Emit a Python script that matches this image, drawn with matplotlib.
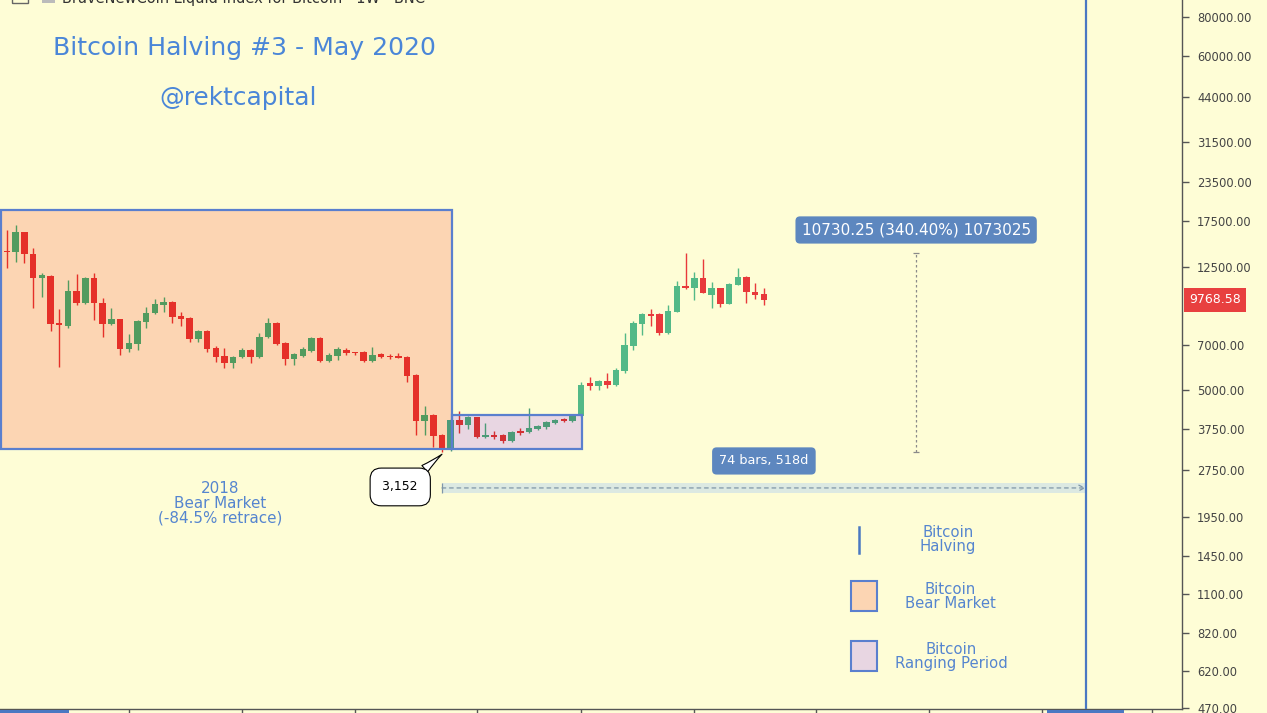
import numpy as np
import matplotlib.pyplot as plt
import matplotlib.colors as mcolors
from matplotlib.patches import Rectangle
import matplotlib.transforms as mtransforms

# BNC weekly candles, bar 0 = week of 25 Dec 2017 (bar -1 = the week before)
bars = np.arange(-1, 88)
opens = np.array([
    19050, 14000, 13940, 16180, 13730, 11490, 11660, 8222, 8040, 10430,
    9542, 11490, 9542, 8161, 8471, 6779, 7036, 8285, 8857, 9399,
    9613, 8661, 8534, 7302, 7748, 6830, 6434, 6107, 6386, 6727,
    6386, 7411, 8222, 7088, 6292, 6434, 6677, 7356, 6199, 6434,
    6727, 6628, 6628, 6199, 6531, 6386, 6434, 6386, 5587, 3968,
    4150, 3576, 3223, 3998, 3852, 4088, 3523, 3576, 3576, 3420,
    3684, 3657, 3739, 3795, 3910, 4027, 3968, 4119, 5265, 5148,
    5344, 5187, 5756, 6932, 8161, 8792, 8792, 7634, 8923, 10830,
    10670, 11490, 10130, 10670, 9472, 10910, 11580, 10350, 10200])
highs = np.array([
    19200, 16420, 17040, 16200, 14360, 11930, 11750, 9124, 11320, 11840,
    11550, 11930, 9903, 9193, 8500, 7578, 8400, 9263, 9830, 9977,
    9700, 8923, 8600, 7800, 7800, 6932, 6830, 6420, 6830, 6780,
    7634, 8534, 8300, 7141, 6560, 6880, 7400, 7400, 6579, 6880,
    6830, 6650, 6660, 6880, 6560, 6531, 6579, 6420, 5620, 4436,
    4180, 3600, 4020, 4275, 4119, 4100, 3910, 3684, 3600, 3684,
    3767, 4371, 3852, 3960, 4027, 4060, 4150, 5304, 5505, 5380,
    5671, 5885, 7634, 8347, 8857, 9124, 8850, 9399, 11240, 13882.25,
    12010, 13230, 11160, 10700, 11050, 12380, 11650, 11080, 10670])
lows = np.array([
    13800, 12380, 12940, 12850, 9193, 9977, 7748, 5929, 7900, 9399,
    9450, 8409, 7411, 8100, 6482, 6628, 6727, 7921, 8800, 8923,
    8222, 8040, 7141, 7141, 6628, 6153, 5885, 5885, 6339, 6107,
    6340, 7380, 7000, 6017, 6017, 6386, 6640, 6150, 6150, 6245,
    6482, 6482, 6170, 6170, 6360, 6292, 6320, 5304, 3576, 3576,
    3271, 3152, 3180, 3630, 3739, 3500, 3500, 3470, 3370, 3400,
    3576, 3630, 3720, 3739, 3890, 3950, 3939, 4090, 4996, 4996,
    5073, 5150, 5671, 6727, 7522, 8040, 7522, 7600, 8900, 10600,
    9757, 10250, 9193, 9263, 9440, 10880, 9542, 9830, 9399])
closes = np.array([
    13940, 13900, 16180, 13730, 11490, 11750, 8161, 8101, 10430, 9542,
    11490, 9542, 8161, 8471, 6779, 7088, 8347, 8857, 9472, 9613,
    8598, 8471, 7302, 7748, 6779, 6386, 6107, 6386, 6727, 6386,
    7411, 8222, 7036, 6292, 6531, 6779, 7356, 6199, 6482, 6779,
    6579, 6579, 6199, 6482, 6386, 6370, 6339, 5546, 3968, 4150,
    3549, 3247, 3998, 3852, 4088, 3523, 3576, 3523, 3420, 3657,
    3630, 3767, 3823, 3939, 3998, 3968, 4119, 5187, 5148, 5344,
    5187, 5799, 6982, 8222, 8792, 8661, 7634, 8990, 10830, 10670,
    11490, 10280, 10670, 9472, 10990, 11580, 10350, 10130, 9768.58])

price_ticks = [470, 620, 820, 1100, 1450, 1950, 2750, 3750, 5000, 7000,
               12500, 17500, 23500, 31500, 44000, 60000, 80000]
quarter_bars = [14, 27, 40, 54, 66, 79, 93, 106, 119, 131.6]

# drawings: bear market box, ranging box, halving, measurements
bear_box = (-0.72, 51.15, 3223, 19050)
range_box = (51.15, 66.1, 3223, 4150)
halving_bar = 124
low_bar, low_price = 50, 3152
move = 10730.25
measure_bar = 104.5

BG = '#fefdd6'
GREEN = '#53b987'
RED = '#e8393b'
BLUE = '#5a7fce'
BEAR_FILL = '#fcd5b3'
RANGE_FILL = '#e8d6e2'
LABEL_BOX = '#5d87bf'
TEXT_BLUE = '#4a86d8'
NOTE_BLUE = '#5585cf'

W, H = 1267, 713
AX_W, AX_H = 1182, 709

fig = plt.figure(figsize=(W / 100, H / 100), dpi=100, facecolor=BG)
ax = fig.add_axes([0, (H - AX_H) / H, AX_W / W, AX_H / H], facecolor=BG)
ax.set_yscale('log')
ax.set_xlim(-0.805, 135.06)
ax.set_ylim(466.2, 90780)


def axpos(x, y):
    return x / AX_W, 1 - y / AX_H


def tint(color, fill):
    # multiply blend of a candle colour with the box fill under it
    return tuple(np.array(mcolors.to_rgb(color)) * np.array(mcolors.to_rgb(fill)))


# box fills under the candles, outlines on top
for (x0, x1, y0, y1), fc in [(bear_box, BEAR_FILL), (range_box, RANGE_FILL)]:
    ax.add_patch(Rectangle((x0, y0), x1 - x0, y1 - y0, fc=fc, ec='none', zorder=1))
    ax.add_patch(Rectangle((x0, y0), x1 - x0, y1 - y0, fc='none', ec=BLUE, lw=1.6, zorder=3))

# candles
colors = []
for b, o, c in zip(bars, opens, closes):
    col = GREEN if c >= o else RED
    if b <= 50:
        col = tint(col, BEAR_FILL)
    elif b <= 65:
        col = tint(col, RANGE_FILL)
    colors.append(col)
body_lo = np.minimum(opens, closes)
body_hi = np.maximum(np.maximum(opens, closes), body_lo * 1.008)
ax.vlines(bars, lows, highs, colors=colors, lw=1, zorder=2)
ax.bar(bars, body_hi - body_lo, bottom=body_lo, width=0.75, color=colors,
       linewidth=0, zorder=2.1)

ax.axvline(halving_bar, color='#4a78c2', lw=1.6, zorder=3)

# date range low -> halving
ax.add_patch(Rectangle((low_bar, 2323), halving_bar - low_bar, 2502 - 2323,
                       fc='#dce9e2', ec='none', zorder=1.5))
ax.annotate('', xy=(halving_bar, 2412), xytext=(low_bar, 2412),
            arrowprops=dict(arrowstyle='->', color='#7f96a8', lw=0.9,
                            linestyle=(0, (3, 3)), shrinkA=0, shrinkB=0), zorder=2)
ax.vlines(low_bar, 2330, 2495, color='#7f96a8', lw=0.9, zorder=2)
ax.text((low_bar + halving_bar) / 2, 2948, '74 bars, 518d', ha='center', va='center',
        fontsize=9.3, color='white', zorder=5,
        bbox=dict(boxstyle='round,pad=0.55,rounding_size=0.35', fc=LABEL_BOX, ec='none'))

# price range from the low
top = low_price + move
ax.vlines(measure_bar, low_price, top, color='#8a8a8a', lw=0.9,
          linestyles=(0, (2, 2)), zorder=2)
ax.hlines([low_price, top], measure_bar - 0.35, measure_bar + 0.35, color='#8a8a8a',
          lw=0.9, zorder=2)
ax.text(measure_bar, 16420, '10730.25 (340.40%) 1073025', ha='center', va='center',
        fontsize=11, color='white', zorder=5,
        bbox=dict(boxstyle='round,pad=0.4,rounding_size=0.3', fc=LABEL_BOX, ec='none'))

# low callout
ax.annotate('3,152', xy=(low_bar, 3100), xytext=(45.2, 2430), ha='center', va='center',
            fontsize=8.9, color='black', zorder=6,
            bbox=dict(boxstyle='round,pad=1.0,rounding_size=0.9', fc='white',
                      ec='black', lw=0.8),
            arrowprops=dict(arrowstyle='wedge,tail_width=0.7,shrink_factor=0.4',
                            fc='white', ec='black', lw=0.8, relpos=(0.78, 0.95),
                            shrinkA=0, shrinkB=0))

# texts
ax.text(*axpos(53, 48), 'Bitcoin Halving #3 - May 2020', transform=ax.transAxes,
        fontsize=18.1, color=TEXT_BLUE, ha='left', va='center')
ax.text(*axpos(238, 98), '@rektcapital', transform=ax.transAxes,
        fontsize=17.8, color=TEXT_BLUE, ha='center', va='center')
ax.text(*axpos(220, 503), '2018\nBear Market\n(-84.5% retrace)', transform=ax.transAxes,
        fontsize=10.9, color=NOTE_BLUE, ha='center', va='center', linespacing=0.98)

# key in the lower right
ax.plot([859 / AX_W] * 2, [1 - 527 / AX_H, 1 - 553 / AX_H], transform=ax.transAxes,
        color='#4a78c2', lw=1.8)
for y, fc in [(581, BEAR_FILL), (641, RANGE_FILL)]:
    ax.add_patch(Rectangle(axpos(851, y + 30), 26 / AX_W, 30 / AX_H,
                           transform=ax.transAxes, fc=fc, ec=BLUE, lw=1.5))
for x, y, label in [(948, 539.5, 'Bitcoin\nHalving'),
                    (950, 596.5, 'Bitcoin\nBear Market'),
                    (951, 656.5, 'Bitcoin\nRanging Period')]:
    ax.text(*axpos(x, y), label, transform=ax.transAxes, fontsize=10.7,
            color=NOTE_BLUE, ha='center', va='center', linespacing=0.98)

# last price tag on the scale
trans = mtransforms.blended_transform_factory(ax.transAxes, ax.transData)
ax.text(1.0 + 7 / AX_W, closes[-1], f'{closes[-1]:.2f}', transform=trans,
        fontsize=9, color='white', ha='left', va='center', zorder=6,
        bbox=dict(boxstyle='square,pad=0.42', fc='#e8403f', ec='none'))

# axes styling
ax.yaxis.tick_right()
ax.set_yticks(price_ticks)
ax.set_yticklabels([f'{v:.2f}' for v in price_ticks])
ax.yaxis.set_minor_locator(plt.NullLocator())
ax.tick_params(axis='y', which='major', direction='out', length=5, width=1,
               color='#555555', labelcolor='#444444', labelsize=8.3, pad=6)
ax.set_xticks(quarter_bars)
ax.set_xticklabels([])
ax.tick_params(axis='x', direction='out', length=4, width=1, color='#555555')
for side in ['top', 'left']:
    ax.spines[side].set_visible(False)
for side in ['bottom', 'right']:
    ax.spines[side].set_color('#555555')
    ax.spines[side].set_linewidth(1)

# series header, mostly above the visible area
fig.text(62 / W, 1 - 2.5 / H, 'BraveNewCoin Liquid Index for Bitcoin \u00b7 1W \u00b7 BNC',
         fontsize=10.5, color='#333333', ha='left', va='baseline')
fig.patches.append(Rectangle((12 / W, 1 - 3 / H), 16 / W, 16 / H, transform=fig.transFigure,
                             fc='none', ec='#666666', lw=1))
fig.patches.append(Rectangle((42 / W, 1 - 3 / H), 13 / W, 13 / H, transform=fig.transFigure,
                             fc='#bbbbbb', ec='none'))
# highlighted spans on the time scale
for a, b in [(0, 69), (1047, 1124)]:
    fig.patches.append(Rectangle((a / W, 0), (b - a) / W, 3 / H, transform=fig.transFigure,
                                 fc='#4a78c2', ec='none'))

fig.savefig('out.png', dpi=100, facecolor=BG)
